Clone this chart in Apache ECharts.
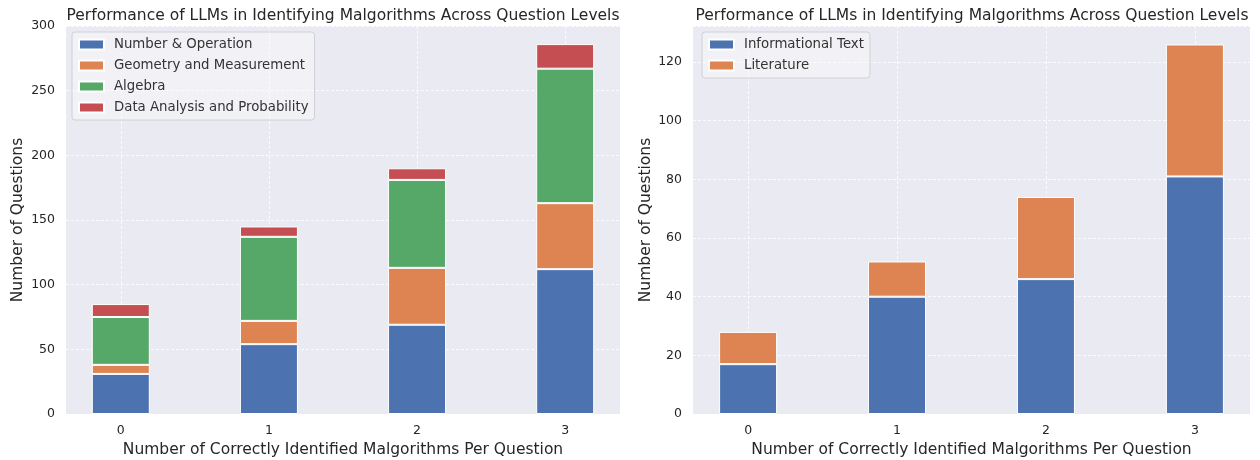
<!DOCTYPE html>
<html><head><meta charset="utf-8">
<script src="https://cdn.jsdelivr.net/npm/echarts@6/dist/echarts.min.js"></script>
<style>html,body{margin:0;padding:0;background:#fff}#c{width:1260px;height:460px}</style>
</head><body><div id="c"></div>
<script>
// ---- data ----
const levels = [0, 1, 2, 3];
const mathNames = ['Number & Operation', 'Geometry and Measurement', 'Algebra', 'Data Analysis and Probability'];
const numberOperation = [31, 54, 69, 112];
const geometryMeasurement = [7, 18, 44, 51];
const algebra = [37, 65, 68, 104];
const dataAnalysis = [10, 8, 9, 19];
const elaNames = ['Informational Text', 'Literature'];
const informationalText = [17, 40, 46, 81];
const literature = [11, 12, 28, 45];
const leftTicks = [0, 50, 100, 150, 200, 250, 300];
const rightTicks = [0, 20, 40, 60, 80, 100, 120];
const titleText = 'Performance of LLMs in Identifying Malgorithms Across Question Levels';
const xTitle = 'Number of Correctly Identified Malgorithms Per Question';
const yTitle = 'Number of Questions';

const colors = ['#4C72B0', '#DD8452', '#55A868', '#C44E52'];
const txt = '#262626';
const font = 'DejaVu Sans';
const chart = echarts.init(document.getElementById('c'));

function xAxisCfg(idx) {
  return {
    type: 'value', gridIndex: idx, min: -0.37, max: 3.37,
    name: xTitle, nameLocation: 'middle', nameGap: 26,
    nameTextStyle: {fontFamily: font, fontSize: 15.5, color: txt},
    axisLine: {show: false}, axisTick: {show: false, customValues: levels},
    axisLabel: {customValues: levels, color: txt, fontFamily: font, fontSize: 12.5, margin: 10},
    splitLine: {show: true, lineStyle: {color: '#ffffff', type: [3, 2], width: 0.8}}
  };
}
function yAxisCfg(idx, max, ticks) {
  return {
    type: 'value', gridIndex: idx, min: 0, max: max, interval: ticks[1] - ticks[0],
    name: yTitle, nameLocation: 'middle', nameGap: idx === 0 ? 40 : 39,
    nameTextStyle: {fontFamily: font, fontSize: 15.5, color: txt},
    axisLine: {show: false}, axisTick: {show: false},
    axisLabel: {color: txt, fontFamily: font, fontSize: 12.5, margin: 11, showMaxLabel: max === ticks[ticks.length - 1]},
    splitLine: {show: true, lineStyle: {color: '#ffffff', type: [3, 2], width: 0.8}}
  };
}
function barSeries(name, vals, color, idx, stack) {
  return {
    type: 'bar', name: name, xAxisIndex: idx, yAxisIndex: idx, stack: stack,
    barWidth: 58,
    encode: {x: 1, y: 0},
    itemStyle: {color: color, borderColor: '#ffffff', borderWidth: 1},
    data: vals.map((v, i) => [v, levels[i]])
  };
}
const legendCommon = {
  orient: 'vertical', itemWidth: 25, itemHeight: 10, itemGap: 8,
  icon: 'rect',
  textStyle: {fontFamily: font, fontSize: 13.3, color: '#333', padding: [0, 0, 0, 5]},
  backgroundColor: 'rgba(255,255,255,0.35)', borderColor: '#d0d0d8', borderWidth: 1, borderRadius: 3,
  padding: [6, 6, 6, 6]
};

chart.setOption({
  animation: false,
  title: [
    {text: titleText, left: 338, top: 3, textAlign: 'center', textStyle: {fontFamily: font, fontSize: 15.5, fontWeight: 'normal', color: txt}},
    {text: titleText, left: 967, top: 3, textAlign: 'center', textStyle: {fontFamily: font, fontSize: 15.5, fontWeight: 'normal', color: txt}}
  ],
  grid: [
    {left: 66, right: 640, top: 26, bottom: 46, show: true, backgroundColor: '#EAEAF2', borderWidth: 0, containLabel: false, outerBoundsMode: 'none'},
    {left: 693, right: 10, top: 26, bottom: 46, show: true, backgroundColor: '#EAEAF2', borderWidth: 0, containLabel: false, outerBoundsMode: 'none'}
  ],
  legend: [
    Object.assign({}, legendCommon, {left: 72, top: 32, data: mathNames}),
    Object.assign({}, legendCommon, {left: 702, top: 32, data: elaNames})
  ],
  xAxis: [xAxisCfg(0), xAxisCfg(1)],
  yAxis: [yAxisCfg(0, 300, leftTicks), yAxisCfg(1, 132.3, rightTicks)],
  series: [
    barSeries(mathNames[0], numberOperation, colors[0], 0, 'm'),
    barSeries(mathNames[1], geometryMeasurement, colors[1], 0, 'm'),
    barSeries(mathNames[2], algebra, colors[2], 0, 'm'),
    barSeries(mathNames[3], dataAnalysis, colors[3], 0, 'm'),
    barSeries(elaNames[0], informationalText, colors[0], 1, 'e'),
    barSeries(elaNames[1], literature, colors[1], 1, 'e')
  ]
});
</script></body></html>
